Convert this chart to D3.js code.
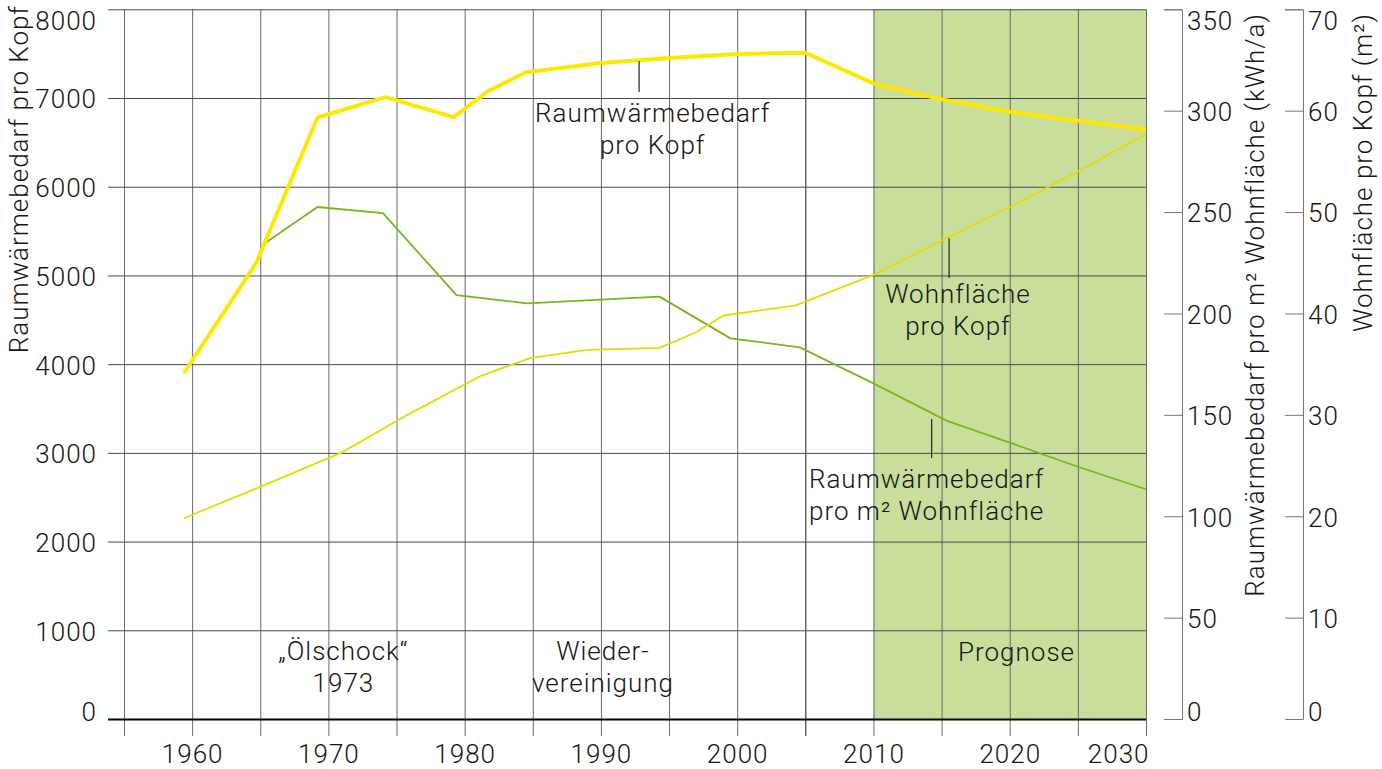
<!DOCTYPE html>
<html>
<head>
<meta charset="utf-8">
<script src="https://cdn.jsdelivr.net/npm/d3@7"></script>
<style>
  body { margin: 0; background: #fff; }
  svg text {
    font-family: Roboto, "Liberation Sans", sans-serif;
    font-weight: 300;
    font-size: 26px;
    letter-spacing: 1px;
    fill: #161616;
  }
</style>
</head>
<body>
<svg id="chart" width="1382" height="769"></svg>
<script>
// Raumwärmebedarf pro Kopf (linke Achse)
const perCapitaYears = [1959.4, 1964.7, 1969.2, 1974.2, 1979.2, 1981.7, 1984.5, 1990, 1995, 2000, 2005, 2010, 2015, 2020, 2025, 2030];
const perCapitaValues = [3900, 5140, 6780, 7010, 6785, 7075, 7290, 7395, 7450, 7495, 7510, 7165, 6985, 6845, 6745, 6645];

// Raumwärmebedarf pro m² Wohnfläche in kWh/a (erste rechte Achse)
const perAreaYears = [1965.2, 1969.2, 1974.0, 1979.4, 1984.6, 1994.3, 1999.5, 2004.6, 2010, 2015.4, 2020, 2025, 2030];
const perAreaValues = [234, 252.5, 249.5, 209, 205, 208.3, 187.7, 183.3, 165.5, 147, 136.3, 124.4, 113.3];

// Wohnfläche pro Kopf in m² (zweite rechte Achse)
const livingSpaceYears = [1959.4, 1965, 1971, 1975.8, 1981.2, 1984.8, 1989, 1994.3, 1996.9, 1999, 2004.3, 2010, 2015, 2020, 2025, 2030];
const livingSpaceValues = [19.8, 22.9, 26.3, 30.0, 33.85, 35.6, 36.4, 36.6, 38.1, 39.8, 40.8, 43.8, 47.2, 50.5, 54.0, 57.7];

const prognoseYears = [2010, 2030];

const xGridYears = d3.range(1955, 2031, 5);
const xLabelYears = d3.range(1960, 2031, 10);
const leftTicks = d3.range(0, 8001, 1000);
const perAreaTicks = d3.range(0, 351, 50);
const livingSpaceTicks = d3.range(0, 71, 10);

const svg = d3.select('#chart');
const plot = { left: 124, right: 1146, top: 9.3, bottom: 719 };

const x = d3.scaleLinear().domain([1955, 2030]).range([plot.left, plot.right]);
const yLeft = d3.scaleLinear().domain([0, 8000]).range([plot.bottom, plot.top]);
const yArea = d3.scaleLinear().domain([0, 350]).range([plot.bottom, plot.top]);
const ySpace = d3.scaleLinear().domain([0, 70]).range([plot.bottom, plot.top]);

// Prognose-Bereich
svg.append('rect')
  .attr('x', x(prognoseYears[0]))
  .attr('y', plot.top)
  .attr('width', x(prognoseYears[1]) - x(prognoseYears[0]))
  .attr('height', plot.bottom - plot.top)
  .attr('fill', '#c9de9b');

// senkrechte Gitterlinien + Jahreszahlen
const gx = svg.append('g')
  .attr('transform', `translate(0,${plot.top})`)
  .call(d3.axisBottom(x)
    .tickValues(xGridYears)
    .tickSize(plot.bottom - plot.top + 17)
    .tickPadding(9)
    .tickFormat(d => xLabelYears.includes(d) ? d : ''));
gx.select('.domain').remove();
gx.selectAll('.tick line')
  .attr('stroke', d => d === 2005 ? '#1a1a1a' : '#6a6a6a')
  .attr('stroke-width', 1);
gx.selectAll('.tick text')
  .filter(d => d === 2030)
  .attr('text-anchor', 'end')
  .attr('dx', 3);

// waagerechte Gitterlinien + linke Achse
const gy = svg.append('g')
  .attr('transform', `translate(${plot.right},0)`)
  .call(d3.axisLeft(yLeft)
    .tickValues(leftTicks)
    .tickSize(plot.right - 108)
    .tickPadding(11)
    .tickFormat(d3.format('d')));
gy.select('.domain').remove();
gy.selectAll('.tick line')
  .attr('stroke', d => d === 0 ? '#000' : '#4a4a4a')
  .attr('stroke-width', d => d === 0 ? 2 : 1);

function nudgeEnds(g, lo, hi) {
  g.selectAll('.tick text')
    .attr('dy', d => d === hi ? '0.78em' : d === lo ? '0.05em' : '0.38em');
}
nudgeEnds(gy, 0, 8000);

// rechte Achsen
function rightAxis(scale, ticks, xPos) {
  const g = svg.append('g')
    .attr('transform', `translate(${xPos},0)`)
    .call(d3.axisRight(scale).tickValues(ticks).tickSize(-18).tickPadding(5));
  g.selectAll('.tick line, .domain').attr('stroke', '#777');
  nudgeEnds(g, ticks[0], ticks[ticks.length - 1]);
  return g;
}
rightAxis(yArea, perAreaTicks, 1182);
rightAxis(ySpace, livingSpaceTicks, 1303);

// Achsentitel
const titles = [
  { text: 'Raumwärmebedarf pro Kopf', x: 28, y: 5 },
  { text: 'Raumwärmebedarf pro m² Wohnfläche (kWh/a)', x: 1264, y: 13 },
  { text: 'Wohnfläche pro Kopf (m²)', x: 1372, y: 13 }
];
svg.selectAll('.title').data(titles).join('text')
  .attr('class', 'title')
  .attr('text-anchor', 'end')
  .attr('transform', d => `translate(${d.x},${d.y}) rotate(-90)`)
  .text(d => d.text);

// Linien
function drawLine(years, values, yScale, color, width) {
  svg.append('path')
    .datum(d3.zip(years, values))
    .attr('fill', 'none')
    .attr('stroke', color)
    .attr('stroke-width', width)
    .attr('stroke-linejoin', 'round')
    .attr('d', d3.line().x(d => x(d[0])).y(d => yScale(d[1])));
}
drawLine(perAreaYears, perAreaValues, yArea, '#7ab51f', 1.8);
drawLine(livingSpaceYears, livingSpaceValues, ySpace, '#e2dc00', 1.8);
drawLine(perCapitaYears, perCapitaValues, yLeft, '#ffe800', 4);

// Beschriftungen (Lage in Jahr / Wert der linken Achse)
const notes = [
  { lines: ['Raumwärmebedarf', 'pro Kopf'], year: 1993.8, value: 6733, leader: [1992.8, 7418, 7069] },
  { lines: ['Wohnfläche', 'pro Kopf'], year: 2016.2, value: 4688, leader: [2015.55, 5420, 4970] },
  { lines: ['Raumwärmebedarf', 'pro m² Wohnfläche'], year: 2013.9, value: 2603, leader: [2014.27, 3381, 2941] },
  { lines: ['„Ölschock“', '1973'], year: 1971.1, value: 665 },
  { lines: ['Wieder-', 'vereinigung'], year: 1990.15, value: 665 },
  { lines: ['Prognose'], year: 2020.5, value: 655 }
];
notes.forEach(n => {
  const t = svg.append('text')
    .attr('text-anchor', 'middle')
    .attr('x', x(n.year))
    .attr('y', yLeft(n.value));
  n.lines.forEach((l, i) => {
    t.append('tspan').attr('x', x(n.year)).attr('dy', i ? 32 : 0).text(l);
  });
  if (n.leader) {
    svg.append('line')
      .attr('x1', x(n.leader[0])).attr('x2', x(n.leader[0]))
      .attr('y1', yLeft(n.leader[1])).attr('y2', yLeft(n.leader[2]))
      .attr('stroke', '#222').attr('stroke-width', 1.2);
  }
});
</script>
</body>
</html>
